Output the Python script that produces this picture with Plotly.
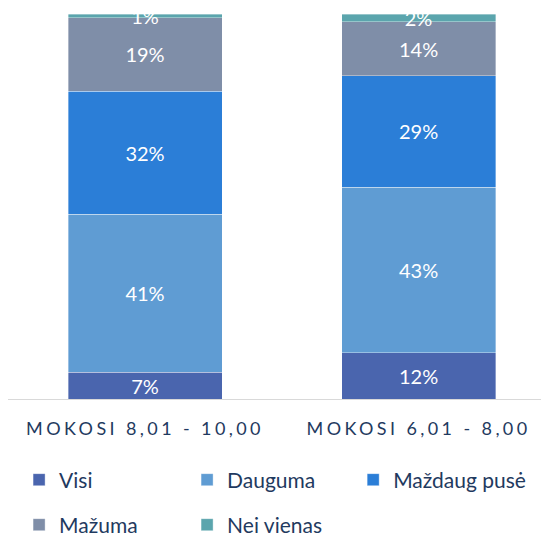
import plotly.graph_objects as go

categories = ["MOKOSI 8,01 - 10,00", "MOKOSI 6,01 - 8,00"]
series_names = ["Visi", "Dauguma", "Maždaug pusė", "Mažuma", "Nei vienas"]
visi = [7, 12]
dauguma = [41, 43]
mazdaug = [32, 29]
mazuma = [19, 14]
nei_vienas = [1, 2]
colors = ["#4a65ae", "#5f9cd3", "#2b7ed7", "#7f8ea8", "#5ba5ad"]

values = [visi, dauguma, mazdaug, mazuma, nei_vienas]
legend_ids = ["legend", "legend", "legend3", "legend2", "legend2"]

W, H = 541, 525

fig = go.Figure()
for name, vals, col, lg in zip(series_names, values, colors, legend_ids):
    fig.add_trace(go.Bar(
        name=name, x=categories, y=vals,
        marker=dict(color=col, line=dict(color="rgba(255,255,255,0.45)", width=0.8)),
        text=[f"{v}%" for v in vals], textposition="inside", insidetextanchor="middle",
        textfont=dict(color="white", size=20, family="Lato"),
        legend=lg, width=0.563,
    ))

navy = "#1f3a60"
leg_common = dict(orientation="h", entrywidth=123, entrywidthmode="pixels",
                  font=dict(size=21, family="Lato", color=navy),
                  xanchor="left", yref="container", yanchor="middle",
                  traceorder="normal", bgcolor="rgba(0,0,0,0)")

tick_text = [f'<span style="letter-spacing:3.4px">{c}</span>' for c in categories]

fig.update_layout(
    width=W, height=H, barmode="stack",
    margin=dict(l=0, r=0, t=6, b=134),
    plot_bgcolor="white", paper_bgcolor="white",
    uniformtext=dict(minsize=20, mode="show"),
    legend=dict(**leg_common, x=0.0205, y=(H - 472) / H),
    legend3=dict(orientation="h", font=dict(size=21, family="Lato", color=navy),
                 xanchor="left", yref="container", yanchor="middle",
                 bgcolor="rgba(0,0,0,0)", x=0.638, y=(H - 472) / H),
    legend2=dict(**leg_common, x=0.0205, y=(H - 517) / H),
    xaxis=dict(range=[-0.501, 1.477], showline=True, linecolor="#d9d9d9", linewidth=1,
               ticks="", tickfont=dict(size=18, family="Lato", color=navy),
               tickmode="array", tickvals=categories, ticktext=tick_text,
               ticklabelstandoff=13, fixedrange=True),
    yaxis=dict(range=[0, 100], visible=False, showgrid=False, fixedrange=True),
    showlegend=True,
)

fig.write_html("out.html")
